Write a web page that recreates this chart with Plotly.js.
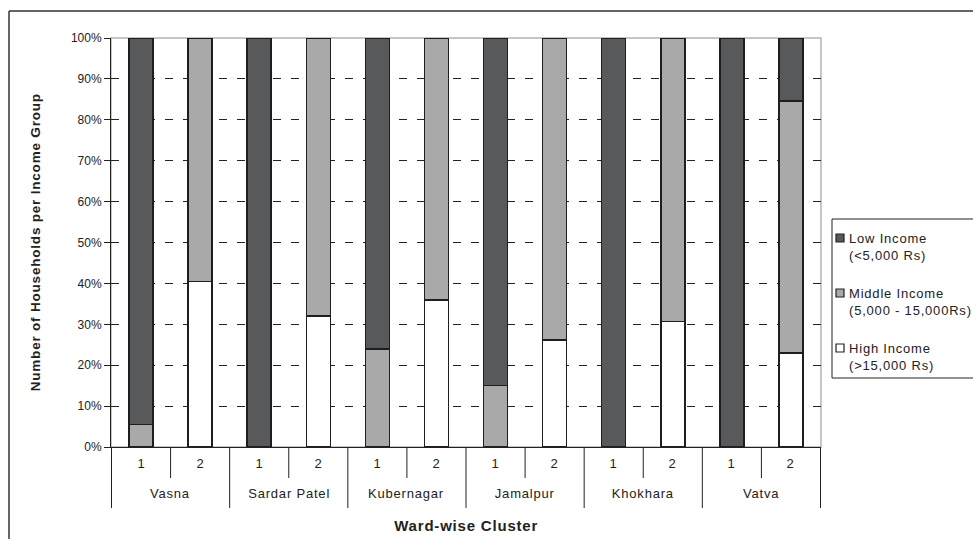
<!DOCTYPE html>
<html>
<head>
<meta charset="utf-8">
<script src="https://cdn.plot.ly/plotly-3.0.1.min.js"></script>
<style>
  html, body { margin: 0; padding: 0; background: #ffffff; }
  #chart { width: 973px; height: 539px; }
  /* wide letter spacing of the chart's labels */
  #chart .annotation-text { letter-spacing: 0.8px; }
</style>
</head>
<body>
<div id="chart"></div>
<script>
// Ward and cluster labels
const wards = ["Vasna", "Vasna", "Sardar Patel", "Sardar Patel", "Kubernagar", "Kubernagar",
               "Jamalpur", "Jamalpur", "Khokhara", "Khokhara", "Vatva", "Vatva"];
const clusters = ["1", "2", "1", "2", "1", "2", "1", "2", "1", "2", "1", "2"];
const wardNames = ["Vasna", "Sardar Patel", "Kubernagar", "Jamalpur", "Khokhara", "Vatva"];

// Share of households per income group (%), stacked bottom to top: high, middle, low
const highIncome   = [0, 40.5, 0, 32.0, 0, 36.0, 0, 26.2, 0, 30.7, 0, 23.0];
const middleIncome = [5.5, 59.5, 0, 68.0, 24.0, 64.0, 15.0, 73.8, 0, 69.3, 0, 61.6];
const lowIncome    = [94.5, 0, 100, 0, 76.0, 0, 85.0, 0, 100, 0, 100, 15.4];

const seriesNames = ["High Income<br>(>15,000 Rs)",
                     "Middle Income<br>(5,000 - 15,000Rs)",
                     "Low Income<br>(<5,000 Rs)"];
const seriesColors = ["#ffffff", "#a9a9a9", "#58595b"];

const FONT = "Liberation Sans, Arial, sans-serif";
const INK = "#222222";
const outline = { color: "#1e1e1e", width: 1.5 };

// page geometry of the plotting area (px)
const W = 973, H = 539;
const M = { l: 111, r: 152, t: 38, b: 92 };
const plotW = W - M.l - M.r, plotH = H - M.t - M.b;
const px = x => (x - M.l) / plotW;          // page x -> paper x
const py = y => (H - M.b - y) / plotH;      // page y -> paper y

// one category per ward/cluster pair
const categories = wards.map((w, i) => w + " " + clusters[i]);

function barTrace(values, name, fill) {
  return {
    type: "bar",
    x: categories,
    y: values.map(v => (v === 0 ? null : v)),
    name: name,
    marker: { color: fill, line: outline },
    hoverinfo: "skip",
    showlegend: false
  };
}

const traces = [
  barTrace(highIncome, seriesNames[0], seriesColors[0]),
  barTrace(middleIncome, seriesNames[1], seriesColors[1]),
  barTrace(lowIncome, seriesNames[2], seriesColors[2])
];

const annotations = [];
const shapes = [
  // plot-area border
  { type: "rect", xref: "paper", yref: "paper", x0: 0, x1: 1, y0: 0, y1: 1,
    line: { color: "#b4b4b4", width: 1.5 }, fillcolor: "rgba(0,0,0,0)", layer: "between" },
  // chart frame, top and left edges
  { type: "line", xref: "paper", yref: "paper", x0: px(9), x1: px(990), y0: py(11), y1: py(11),
    line: { color: "#333333", width: 1.5 } },
  { type: "line", xref: "paper", yref: "paper", x0: px(9), x1: px(9), y0: py(11), y1: py(560),
    line: { color: "#333333", width: 1.5 } }
];

// two-level category labels and separators below the x axis
categories.forEach((c, i) => {
  annotations.push({
    x: c, y: py(463), xref: "x", yref: "paper", text: clusters[i], showarrow: false,
    font: { family: FONT, size: 13, color: INK }, xanchor: "center", yanchor: "middle"
  });
});
for (let i = 0; i < categories.length; i += 2) {
  shapes.push({ type: "line", xref: "x", yref: "paper", x0: i + 0.5, x1: i + 0.5,
                y0: 0, y1: py(478), line: { color: INK, width: 1 } });
}
for (let k = 0; k <= wardNames.length; k++) {
  shapes.push({ type: "line", xref: "x", yref: "paper", x0: 2 * k - 0.5, x1: 2 * k - 0.5,
                y0: 0, y1: py(508), line: { color: INK, width: 1 } });
}
wardNames.forEach((w, k) => {
  annotations.push({
    x: 2 * k + 0.5, y: py(493), xref: "x", yref: "paper", text: w, showarrow: false,
    font: { family: FONT, size: 13, color: INK }, xanchor: "center", yanchor: "middle"
  });
});

// axis titles
annotations.push({
  x: 0.5, y: py(525), xref: "paper", yref: "paper", showarrow: false,
  text: "<b>Ward-wise Cluster</b>", font: { family: FONT, size: 15, color: INK },
  xanchor: "center", yanchor: "middle"
});
annotations.push({
  x: px(35), y: 0.5, xref: "paper", yref: "paper", showarrow: false, textangle: -90,
  text: "<b>Number of Households per Income Group</b>", font: { family: FONT, size: 13.5, color: INK },
  xanchor: "center", yanchor: "middle"
});

// legend: framed box with a swatch and a two-line label per income group, low first
shapes.push({ type: "rect", xref: "paper", yref: "paper", x0: px(832), x1: px(990), y0: py(219), y1: py(378),
              line: { color: INK, width: 1 }, fillcolor: "#ffffff" });
const legendRows = [238, 293, 348];
[2, 1, 0].forEach((s, r) => {
  const cy = legendRows[r];
  shapes.push({ type: "rect", xref: "paper", yref: "paper",
                x0: px(836), x1: px(844), y0: py(cy + 4), y1: py(cy - 4),
                line: { color: INK, width: 1.2 }, fillcolor: seriesColors[s] });
  annotations.push({
    x: px(847), y: py(cy - 9), xref: "paper", yref: "paper", showarrow: false,
    text: seriesNames[s], align: "left", xanchor: "left", yanchor: "top",
    font: { family: FONT, size: 13, color: INK }
  });
});

const layout = {
  width: W,
  height: H,
  margin: M,
  paper_bgcolor: "#ffffff",
  plot_bgcolor: "#ffffff",
  font: { family: FONT, size: 12, color: INK },
  barmode: "stack",
  bargap: 0.595,
  showlegend: false,
  xaxis: {
    type: "category",
    showline: true, linecolor: INK, linewidth: 1,
    ticks: "", showticklabels: false,
    showgrid: false, zeroline: false
  },
  yaxis: {
    range: [0, 100], dtick: 10, ticksuffix: "%",
    showline: true, linecolor: INK, linewidth: 1,
    ticks: "outside", ticklen: 6, tickcolor: INK,
    tickfont: { family: FONT, size: 12, color: INK },
    showgrid: true, gridcolor: INK, gridwidth: 1, griddash: "8px,10px",
    zeroline: false
  },
  shapes: shapes,
  annotations: annotations
};

Plotly.newPlot("chart", traces, layout, { staticPlot: true, displayModeBar: false });
</script>
</body>
</html>
